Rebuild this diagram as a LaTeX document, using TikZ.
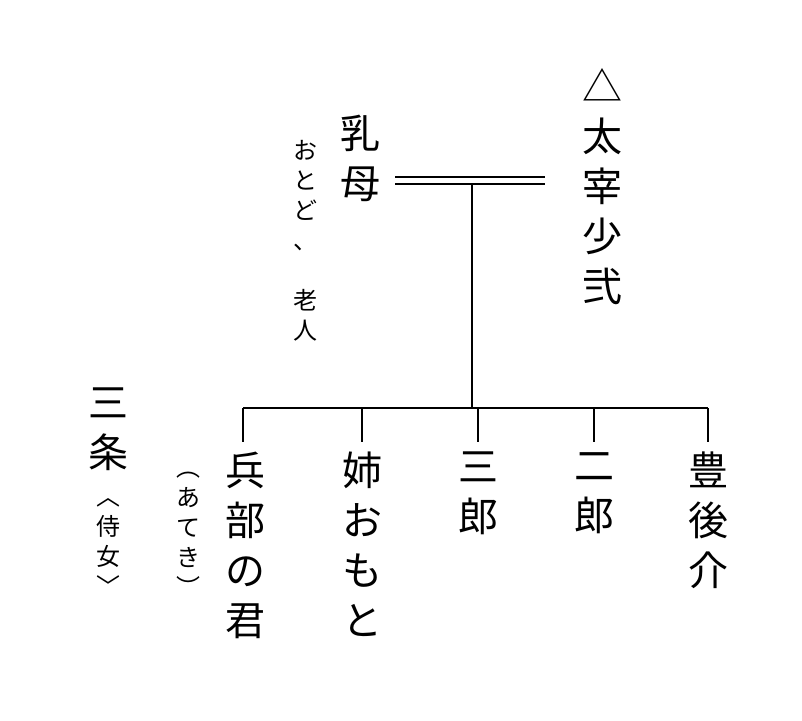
\documentclass[tikz,border=0pt]{standalone}
\usepackage{fontspec}
\setmainfont{Noto Sans CJK JP}
\begin{document}
\begin{tikzpicture}[x=1pt,y=-1pt,
  big/.style={font=\fontsize{40}{50}\selectfont,align=center,inner sep=0pt,anchor=north},
  small/.style={font=\fontsize{24}{30}\selectfont,align=center,inner sep=0pt,anchor=north},
  ln/.style={line width=2.4pt}]
\useasboundingbox (0,0) rectangle (802,720);
\node[big] (dazai) at (602,68) {△\\太\\宰\\少\\弐};
\node[big] (menoto) at (360,115) {乳\\母};
\node[small] (otodo) at (305,140) {お\\と\\ど\\、\\\\老\\人};
\coordinate (dl) at (395,177); \coordinate (dr) at (545,177);
\draw[line width=1.6pt] (395,177) -- (545,177) (395,184) -- (545,184);
\coordinate (top) at (472,184);
\coordinate (mid) at (472,408);
\draw[ln] (top) -- (mid);
\draw[ln] (243,408) -- (708,408);
\foreach \x/\n in {243/a,362/b,478/c,594/d,708/e}{
  \coordinate (t\n) at (\x,408); \coordinate (b\n) at (\x,442);
  \draw[ln] (t\n) -- (b\n);}
\node[big] (hyobu) at (245,452) {兵\\部\\の\\君};
\node[small] (ateki) at (188,472) {︵\\あ\\て\\き\\︶};
\node[big] (ane) at (362,452) {姉\\お\\も\\と};
\node[big] (saburo) at (478,452) {三\\郎};
\node[big] (jiro) at (594,452) {二\\郎};
\node[big] (bungo) at (708,452) {豊\\後\\介};
\node[big] (sanjo) at (108,388) {三\\条};
\node[small] (jijo) at (108,498) {︿\\侍\\女\\﹀};
\end{tikzpicture}
\end{document}
